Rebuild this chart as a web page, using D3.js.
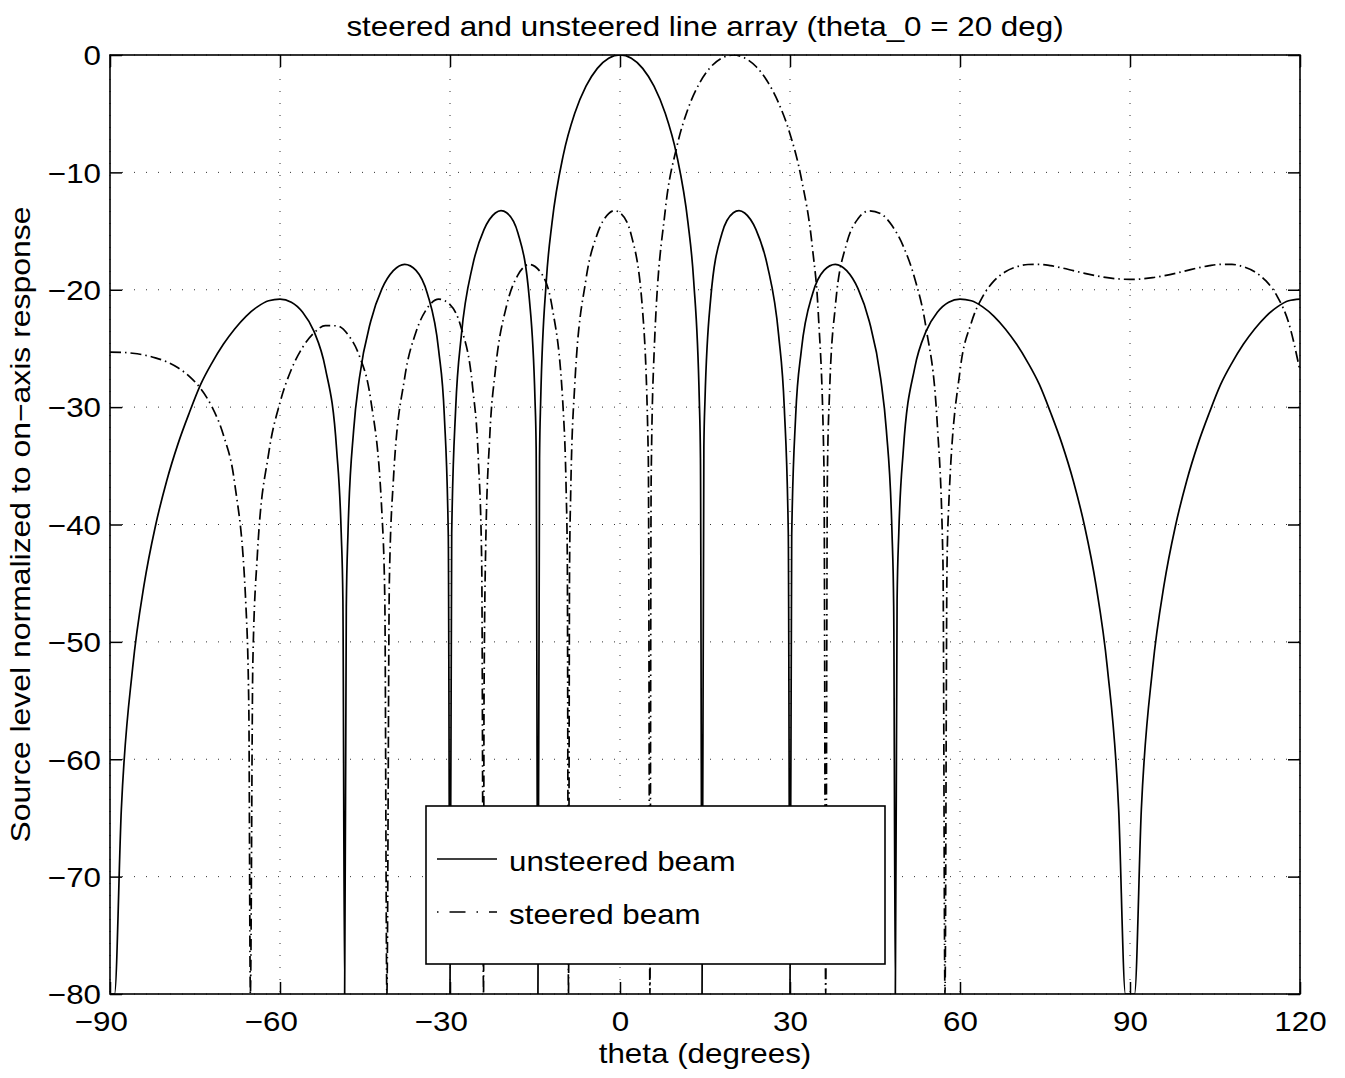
<!DOCTYPE html>
<html>
<head>
<meta charset="utf-8">
<script src="https://cdn.jsdelivr.net/npm/d3@7"></script>
<style>
  body { margin: 0; background: #fff; }
  svg text { font-family: "Liberation Sans", Arial, Helvetica, sans-serif; font-size: 28px; fill: #000; }
</style>
</head>
<body>
<svg width="1345" height="1078"></svg>
<script>
// beam pattern: [theta (deg), level (dB)]
const unsteeredBeam = [
  [-90,-80],[-89.2,-80],[-88,-64.28],[-86,-52.19],[-84,-45.17],[-82,-40.17],[-80,-36.29],[-78,-33.13],
  [-76,-30.48],[-74,-28.07],[-72,-26.23],[-70,-24.65],[-68,-23.34],[-66,-22.26],[-64,-21.46],[-62,-20.94],
  [-60,-20.80],[-58,-21.06],[-56,-21.92],[-54,-23.55],[-52,-26.67],[-50,-33.65],[-49.2,-40.69],[-48.9,-46.4],
  [-48.59,-80],[-48.3,-47.0],[-48,-40.7],[-47,-31.94],[-46,-27.56],[-44,-22.70],[-42,-19.90],[-40,-18.37],
  [-38,-17.83],[-36,-18.35],[-34,-20.32],[-32,-25.17],[-31,-30.74],[-30.3,-40.94],[-30,-80],[-29.7,-40.76],
  [-29,-30.13],[-28,-23.89],[-26,-17.92],[-24,-14.88],[-22,-13.46],[-21,-13.26],[-20,-13.44],[-18,-15.19],
  [-16,-20.78],[-15,-29.37],[-14.8,-33.4],[-14.48,-80],[-14.2,-34.4],[-14,-29.5],[-13,-19.21],[-12,-14.30],
  [-10,-8.51],[-8,-4.99],[-6,-2.66],[-4,-1.14],[-2,-0.28],[0,0],
  [2,-0.28],[4,-1.14],[6,-2.66],[8,-4.99],[10,-8.51],[12,-14.30],[13,-19.21],[14,-29.5],
  [14.2,-34.4],[14.48,-80],[14.8,-33.4],[15,-29.37],[16,-20.78],[18,-15.19],[20,-13.44],[21,-13.26],
  [22,-13.46],[24,-14.88],[26,-17.92],[28,-23.89],[29,-30.13],[29.7,-40.76],[30,-80],[30.3,-40.94],
  [31,-30.74],[32,-25.17],[34,-20.32],[36,-18.35],[38,-17.83],[40,-18.37],[42,-19.90],[44,-22.70],
  [46,-27.56],[47,-31.94],[48,-40.7],[48.3,-47.0],[48.59,-80],[48.9,-46.4],[49.2,-40.69],[50,-33.65],
  [52,-26.67],[54,-23.55],[56,-21.92],[58,-21.06],[60,-20.80],[62,-20.94],[64,-21.46],[66,-22.26],
  [68,-23.34],[70,-24.65],[72,-26.23],[74,-28.07],[76,-30.48],[78,-33.13],[80,-36.29],[82,-40.17],
  [84,-45.17],[86,-52.19],[88,-64.28],[89.2,-80],[90.8,-80],[92,-64.28],[94,-52.19],[96,-45.17],
  [98,-40.17],[100,-36.29],[102,-33.13],[104,-30.48],[106,-28.07],[108,-26.23],[110,-24.65],[112,-23.34],
  [114,-22.26],[116,-21.46],[118,-20.94],[120,-20.80]
];

const steeredBeam = [
  [-90,-25.31],[-88,-25.33],[-86,-25.41],[-84,-25.56],[-82,-25.80],[-80,-26.14],[-78,-26.65],[-76,-27.38],
  [-74,-28.43],[-72,-29.98],[-70,-32.36],[-68,-36.49],[-66,-47.07],[-65.5,-55.7],[-65.23,-80],[-64.8,-51.95],
  [-64,-42.62],[-62,-33.94],[-60,-29.60],[-58,-26.79],[-56,-24.90],[-54,-23.68],[-52,-23.06],[-50,-23.07],
  [-48,-23.83],[-46,-25.63],[-44,-29.35],[-42,-39.18],[-41.5,-46.5],[-41.14,-80],[-40.7,-44.8],[-40,-36.28],
  [-38,-27.51],[-36,-23.60],[-34,-21.56],[-32,-20.80],[-30,-21.26],[-28,-23.28],[-26,-28.34],[-25,-34.41],
  [-24.4,-43.4],[-24.08,-80],[-24,-55.6],[-23.7,-41.9],[-23,-32.63],[-22,-26.89],[-20,-21.33],[-18,-18.73],
  [-16,-17.84],[-14,-18.52],[-12,-21.42],[-10,-30.41],[-9.5,-37.13],[-9.3,-42.8],[-9.09,-80],[-8.9,-43.7],
  [-8.7,-37.32],[-8,-28.24],[-6,-19.10],[-4,-15.24],[-2,-13.51],[-1,-13.26],[0,-13.44],[2,-15.37],
  [4,-21.86],[5,-34.39],[5.28,-80],[5.5,-36.17],[6,-25.60],[8,-13.18],[10,-7.87],[12,-4.59],
  [14,-2.43],[16,-1.03],[18,-0.25],[20,0],[22,-0.25],[24,-0.98],[26,-2.24],[28,-4.10],
  [30,-6.72],[32,-10.51],[34,-16.61],[35,-22.06],[36,-35.29],[36.3,-80],[36.6,-35.64],[37,-28.49],
  [38,-21.40],[40,-16.05],[42,-13.95],[44,-13.28],[46,-13.52],[48,-14.53],[50,-16.30],[52,-19.02],
  [54,-23.22],[56,-31.52],[57,-43.42],[57.35,-80],[57.7,-43.83],[58,-38.49],[60,-26.91],[62,-22.81],
  [64,-20.58],[66,-19.25],[68,-18.47],[70,-18.04],[72,-17.85],[74,-17.84],[76,-17.95],[78,-18.14],
  [80,-18.37],[82,-18.60],[84,-18.80],[86,-18.97],[88,-19.08],[90,-19.12],[92,-19.08],[94,-18.97],
  [96,-18.80],[98,-18.60],[100,-18.37],[102,-18.14],[104,-17.95],[106,-17.84],[108,-17.84],[110,-18.04],
  [112,-18.47],[114,-19.25],[116,-20.58],[118,-22.81],[120,-26.91]
];

const xTicks = [-90, -60, -30, 0, 30, 60, 90, 120];
const yTicks = [-80, -70, -60, -50, -40, -30, -20, -10, 0];
const legendLabels = ["unsteered beam", "steered beam"];

const svg = d3.select("svg");
const plotLeft = 110, plotRight = 1300, plotTop = 55, plotBottom = 994;
const stretch = "scale(1.12,1)";   // the matlab font runs a bit wide
const dashDot = "11,4,1.5,4";

const x = d3.scaleLinear().domain([-90, 120]).range([plotLeft, plotRight]);
const y = d3.scaleLinear().domain([-80, 0]).range([plotBottom, plotTop]);

// dotted grid
svg.append("g").selectAll("line")
  .data(xTicks)
  .join("line")
    .attr("x1", d => x(d)).attr("x2", d => x(d))
    .attr("y1", plotTop).attr("y2", plotBottom)
    .attr("stroke", "#333").attr("stroke-dasharray", "1,11");

svg.append("g").selectAll("line")
  .data(yTicks)
  .join("line")
    .attr("x1", plotLeft).attr("x2", plotRight)
    .attr("y1", d => y(d)).attr("y2", d => y(d))
    .attr("stroke", "#333").attr("stroke-dasharray", "1,11");

svg.append("clipPath").attr("id", "plot")
  .append("rect")
    .attr("x", plotLeft).attr("y", plotTop)
    .attr("width", plotRight - plotLeft).attr("height", plotBottom - plotTop);

const line = d3.line()
  .x(d => x(d[0]))
  .y(d => y(d[1]))
  .curve(d3.curveMonotoneX);

svg.append("path")
  .datum(unsteeredBeam)
  .attr("d", line)
  .attr("fill", "none")
  .attr("stroke", "#000")
  .attr("stroke-width", 1.7)
  .attr("clip-path", "url(#plot)");

svg.append("path")
  .datum(steeredBeam)
  .attr("d", line)
  .attr("fill", "none")
  .attr("stroke", "#000")
  .attr("stroke-width", 1.7)
  .attr("stroke-dasharray", dashDot)
  .attr("clip-path", "url(#plot)");

// axes box
svg.append("rect")
  .attr("x", plotLeft).attr("y", plotTop)
  .attr("width", plotRight - plotLeft).attr("height", plotBottom - plotTop)
  .attr("fill", "none").attr("stroke", "#000").attr("stroke-width", 1.6);

// ticks point inward on all four sides
const xAxis = svg.append("g")
  .attr("transform", `translate(0,${plotBottom})`)
  .call(d3.axisBottom(x).tickValues(xTicks).tickSizeInner(-12).tickSizeOuter(0).tickFormat(d3.format("d")));
xAxis.select(".domain").remove();
xAxis.selectAll("line").attr("stroke-width", 1.5);
xAxis.selectAll("text")
  .attr("y", 37.5)
  .attr("dy", 0)
  .attr("dx", d => d < 0 ? -8.2 : 0)
  .attr("transform", stretch);

const yAxis = svg.append("g")
  .attr("transform", `translate(${plotLeft},0)`)
  .call(d3.axisLeft(y).tickValues(yTicks).tickSizeInner(-12).tickSizeOuter(0).tickFormat(d3.format("d")));
yAxis.select(".domain").remove();
yAxis.selectAll("line").attr("stroke-width", 1.5);
yAxis.selectAll("text")
  .attr("x", -8)
  .attr("dy", "0.35em")
  .attr("transform", stretch);

const topAxis = svg.append("g")
  .attr("transform", `translate(0,${plotTop})`)
  .call(d3.axisTop(x).tickValues(xTicks).tickSizeInner(-12).tickSizeOuter(0).tickFormat(""));
topAxis.select(".domain").remove();
topAxis.selectAll("line").attr("stroke-width", 1.5);

const rightAxis = svg.append("g")
  .attr("transform", `translate(${plotRight},0)`)
  .call(d3.axisRight(y).tickValues(yTicks).tickSizeInner(-12).tickSizeOuter(0).tickFormat(""));
rightAxis.select(".domain").remove();
rightAxis.selectAll("line").attr("stroke-width", 1.5);

// titles
svg.append("text")
  .attr("transform", `translate(705,35.5) ${stretch}`)
  .attr("text-anchor", "middle")
  .text("steered and unsteered line array (theta_0 = 20 deg)");

svg.append("text")
  .attr("transform", `translate(705,1063) ${stretch}`)
  .attr("text-anchor", "middle")
  .text("theta (degrees)");

svg.append("text")
  .attr("transform", `translate(30,524.5) rotate(-90) scale(1.14,1)`)
  .attr("text-anchor", "middle")
  .text("Source level normalized to on\u2212axis response");

// legend
const legend = svg.append("g");
legend.append("rect")
  .attr("x", 426).attr("y", 806)
  .attr("width", 459).attr("height", 158)
  .attr("fill", "#fff").attr("stroke", "#000").attr("stroke-width", 1.6);

const rows = legend.selectAll("g.row")
  .data(legendLabels)
  .join("g")
    .attr("class", "row")
    .attr("transform", (d, i) => `translate(0,${859 + i * 53})`);

rows.append("line")
  .attr("x1", 437).attr("x2", 497)
  .attr("stroke", "#000").attr("stroke-width", 1.5)
  .attr("stroke-dasharray", (d, i) => i === 0 ? null : "1.5,11,16,11");

rows.append("text")
  .attr("transform", `translate(509,12) ${stretch}`)
  .text(d => d);
</script>
</body>
</html>
